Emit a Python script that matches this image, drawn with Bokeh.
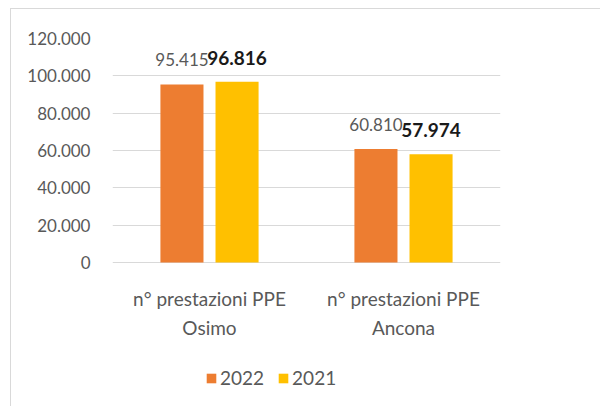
from bokeh.plotting import figure
from bokeh.models import Range1d, FixedTicker, Legend, LegendItem, ColumnDataSource
from bokeh.transform import dodge
from bokeh.core.properties import value
from bokeh.embed import file_html
from bokeh.resources import INLINE

categories = ["n° prestazioni PPE\nOsimo", "n° prestazioni PPE\nAncona"]
series_names = ["2022", "2021"]
values_2022 = [95415, 60810]
values_2021 = [96816, 57974]
labels_2022 = ["95.415", "60.810"]
labels_2021 = ["96.816", "57.974"]
y_ticks = [0, 20000, 40000, 60000, 80000, 100000, 120000]
y_tick_labels = ["0", "20.000", "40.000", "60.000", "80.000", "100.000", "120.000"]

FONT = "Lato"
GRAY = "#595959"
C2022 = "#ED7D31"
C2021 = "#FFC000"

src = ColumnDataSource(dict(cat=categories, v22=values_2022, v21=values_2021,
                            l22=labels_2022, l21=labels_2021,
                            base=[0] * len(categories)))

# frame: 0..120000 spans 224 px; extra room below 0 holds category labels + legend
p = figure(x_range=categories, y_range=Range1d(-75000, 120000), width=590, height=398,
           output_backend="svg", toolbar_location=None, title=None,
           min_border_left=101, min_border_right=101, min_border_top=29, min_border_bottom=5)
p.styles = {"border-left": "1px solid #D9D9D9", "border-top": "1px solid #D9D9D9",
            "margin-left": "10px", "margin-top": "8px"}
p.outline_line_color = None
p.background_fill_color = "white"

off = 0.142
bw = 0.222
r1 = p.vbar(x=dodge("cat", -off, range=p.x_range), top="v22", width=bw, source=src,
            fill_color=C2022, line_color=None)
r2 = p.vbar(x=dodge("cat", off, range=p.x_range), top="v21", width=bw, source=src,
            fill_color=C2021, line_color=None)

p.text(x=dodge("cat", -off, range=p.x_range), y="v22", text="l22", source=src,
       text_align="center", text_baseline="bottom", y_offset=-18,
       text_font=value(FONT), text_font_size="17px", text_color=GRAY)
p.text(x=dodge("cat", off, range=p.x_range), y="v21", text="l21", source=src,
       text_align="center", text_baseline="bottom", y_offset=-17,
       text_font=value(FONT), text_font_size="19px", text_color="#1a1a1a",
       text_font_style="bold")

# category labels (x axis) under the zero line
p.text(x="cat", y="base", text="cat", source=src,
       text_align="center", text_baseline="top", y_offset=24,
       text_font=value(FONT), text_font_size="19px", text_color=GRAY,
       text_line_height=1.3)

# y axis
p.yaxis.ticker = FixedTicker(ticks=y_ticks)
p.yaxis.major_label_overrides = {t: l for t, l in zip(y_ticks, y_tick_labels)}
p.yaxis.axis_line_color = None
p.yaxis.major_tick_line_color = None
p.yaxis.minor_tick_line_color = None
p.yaxis.major_tick_out = 0
p.yaxis.major_tick_in = 0
p.yaxis.major_label_standoff = 22
p.yaxis.major_label_text_font = FONT
p.yaxis.major_label_text_font_size = "17px"
p.yaxis.major_label_text_color = GRAY

p.ygrid.ticker = FixedTicker(ticks=y_ticks)
p.ygrid.grid_line_color = "#D9D9D9"
p.xgrid.grid_line_color = None
p.xaxis.visible = False

legend = Legend(items=[LegendItem(label=series_names[0], renderers=[r1]),
                       LegendItem(label=series_names[1], renderers=[r2])],
                location=(93, 13), orientation="horizontal",
                padding=0, margin=0, spacing=13, label_standoff=3,
                glyph_width=12, glyph_height=12, label_height=20,
                border_line_color=None, background_fill_alpha=0,
                label_text_font=FONT, label_text_font_size="19px", label_text_color=GRAY)
p.add_layout(legend)

open("out.html", "w").write(file_html(p, INLINE))
